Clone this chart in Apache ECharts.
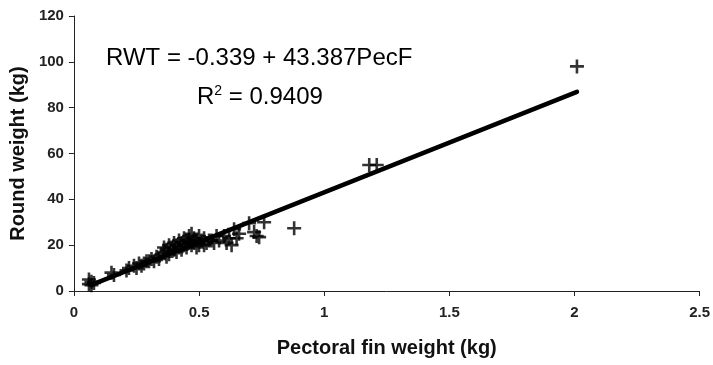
<!DOCTYPE html>
<html>
<head>
<meta charset="utf-8">
<script src="https://cdn.jsdelivr.net/npm/echarts@6/dist/echarts.min.js"></script>
<style>html,body{margin:0;padding:0;background:#fff;}#c{width:713px;height:365px;}</style>
</head>
<body>
<div id="c"></div>
<script>
var finWeight = [0.06,0.06,0.07,0.07,0.08,0.15,0.16,0.21,0.22,0.24,0.25,0.26,0.27,0.28,0.29,0.30,0.31,0.33,0.34,0.35,0.36,0.36,0.37,0.38,0.38,0.39,0.40,0.40,0.41,0.42,0.42,0.43,0.44,0.44,0.45,0.45,0.46,0.46,0.47,0.47,0.48,0.48,0.49,0.49,0.50,0.50,0.51,0.52,0.53,0.54,0.55,0.57,0.58,0.60,0.61,0.62,0.63,0.64,0.65,0.66,0.70,0.72,0.73,0.74,0.76,0.88,1.18,1.21,2.01,0.32,0.37,0.41,0.43,0.46,0.52,0.56];
var roundWeight = [3,5,2.5,4,3.5,8,7,9,10,11,10,12,11,12,13,13,14,15,14,16,17,19,18,16,20,19,18,21,20,22,19,21,20,23,22,19,24,21,20,25,23,21,22,19,24,20,22,23,21,22,22,24,22,24,21,23,20,27,23,25,29.6,25.7,24,23.5,30,27.4,55,55,98,13,15,17,18,22,20,21];
var fitIntercept = -0.339;
var fitSlope = 43.387;
var fitRange = [0.07, 2.01];
var xTicks = [0, 0.5, 1, 1.5, 2, 2.5];
var yTicks = [0, 20, 40, 60, 80, 100, 120];

var pts = finWeight.map(function(x,i){return [x, roundWeight[i]];});
var fitLine = fitRange.map(function(x){return [x, fitIntercept + fitSlope*x];});

var chart = echarts.init(document.getElementById('c'));
var font = 'Liberation Sans, Arial, sans-serif';
chart.setOption({
  animation:false,
  backgroundColor:'#fff',
  grid:{left:71,right:9,top:16,bottom:74},
  xAxis:{type:'value',min:xTicks[0],max:xTicks[xTicks.length-1],interval:0.5,
    name:'Pectoral fin weight (kg)',nameLocation:'middle',nameGap:47,
    nameTextStyle:{fontFamily:font,fontWeight:'bold',fontSize:20,color:'#111'},
    axisLine:{lineStyle:{color:'#222',width:1}},
    axisTick:{show:true,length:5,lineStyle:{color:'#222'}},
    axisLabel:{fontFamily:font,fontSize:15,fontWeight:'bold',color:'#222',margin:14,
      formatter:function(v){return String(v);}},
    splitLine:{show:false}},
  yAxis:{type:'value',min:yTicks[0],max:yTicks[yTicks.length-1],interval:20,
    name:'Round weight (kg)',nameLocation:'middle',nameGap:40,
    nameTextStyle:{fontFamily:font,fontWeight:'bold',fontSize:20,color:'#111'},
    axisLine:{show:true,lineStyle:{color:'#222',width:1}},
    axisTick:{show:true,length:5,lineStyle:{color:'#222'}},
    axisLabel:{fontFamily:font,fontSize:15,fontWeight:'bold',color:'#222',margin:10},
    splitLine:{show:false}},
  series:[
    {type:'line',data:fitLine,symbol:'none',lineStyle:{color:'#000',width:4.5,cap:'round'},z:2},
    {type:'scatter',data:pts,symbol:'path://M5.3,0 H7.7 V5.3 H13 V7.7 H7.7 V13 H5.3 V7.7 H0 V5.3 H5.3 Z',
      symbolSize:14,itemStyle:{color:'#000'},z:3}
  ],
  graphic:[
    {type:'text',left:106,top:46,style:{text:'RWT = -0.339 + 43.387PecF',font:'24px Liberation Sans, Arial, sans-serif',fill:'#000'}},
    {type:'text',left:197,top:84,style:{
      text:'R{sup|2} = 0.9409',
      rich:{sup:{fontSize:14,verticalAlign:'top',padding:[0,0,12,0],fontFamily:font}},
      font:'24px Liberation Sans, Arial, sans-serif',fill:'#000'}}
  ]
});
</script>
</body>
</html>
